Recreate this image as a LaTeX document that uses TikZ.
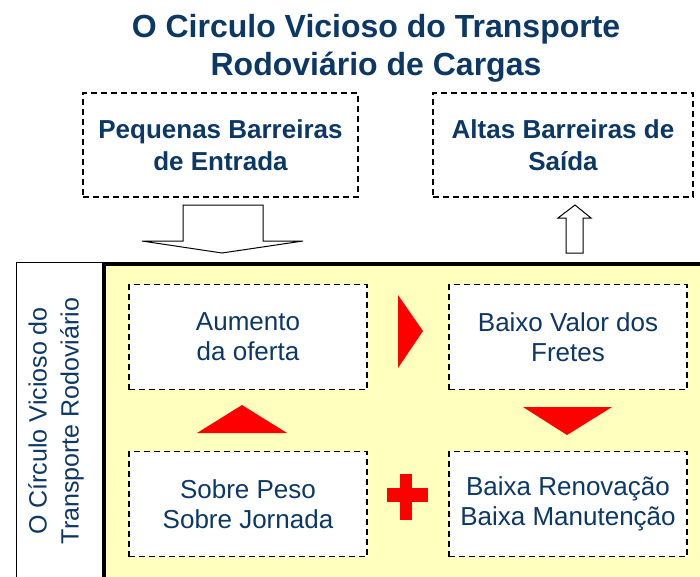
\documentclass[tikz,border=0pt]{standalone}
\usepackage{fontspec}
\setmainfont{Liberation Sans}
\usetikzlibrary{positioning}
\definecolor{navy}{RGB}{12,56,104}
\definecolor{pale}{RGB}{255,255,190}
\tikzset{
	dashbox/.style={draw=black, dash pattern=on 6pt off 4pt, line width=1.3pt, fill=white, align=center, inner sep=0pt, text=navy},
	outerbox/.style={dashbox, minimum width=#1, minimum height=104pt, font=\bfseries\fontsize{26}{32}\selectfont},
	innerbox/.style={dashbox, minimum width=238pt, minimum height=105pt, font=\fontsize{26}{30}\selectfont},
	marker/.style={fill=red, draw=none}
}

\begin{document}
\begin{tikzpicture}[x=1pt, y=-1pt]
		%%%%% START %%%%%
		\useasboundingbox (0, 0) rectangle (700, 576);
		
		\node[text=navy, align=center, inner sep=0pt, font=\bfseries\fontsize{32}{38}\selectfont] (title) at (376, 48) {O Circulo Vicioso do Transporte\\Rodoviário de Cargas};
		
		\node[outerbox=275pt] (entrada) at (220.5, 145) {Pequenas Barreiras\\de Entrada};
		\node[outerbox=260pt] (saida) at (563, 145) {Altas Barreiras de\\Saída};
		
		% block arrows
		\draw[line width=1pt, fill=white, line join=miter] (183, 205) -- (263, 205) -- (263, 241) -- (303, 241) -- (222, 253) -- (142, 241) -- (183, 241) -- cycle;
		\draw[line width=1pt, fill=white, line join=miter] (566, 253) -- (583, 253) -- (583, 218) -- (591, 218) -- (575, 205) -- (558, 218) -- (566, 218) -- cycle;
		
		% side panel and yellow field
		\draw[line width=0.8pt, fill=white] (16, 262) rectangle (102, 600);
		\node[rotate=90, text=navy, align=center, inner sep=0pt, font=\fontsize{25}{32}\selectfont] (lado) at (56, 421) {O Círculo Vicioso do\\Transporte Rodoviário};
		\draw[line width=3.8pt, fill=pale] (104.5, 264) rectangle (720, 600);
		
		\node[innerbox] (oferta) at (248, 337) {Aumento\\da oferta};
		\node[innerbox] (fretes) at (568, 337) {Baixo Valor dos\\Fretes};
		\node[innerbox] (peso) at (248, 504) {Sobre Peso\\Sobre Jornada};
		\node[innerbox] (renov) at (568, 504) {Baixa Renovação\\Baixa Manutenção};
		
		% red markers
		\fill[marker] (398, 295) -- (423, 331) -- (398, 368) -- cycle;
		\fill[marker] (523, 407) -- (612, 407) -- (567, 435) -- cycle;
		\fill[marker] (197, 433) -- (287, 433) -- (242, 405) -- cycle;
		\fill[marker] (400, 474) rectangle (412, 520);
		\fill[marker] (387, 488) rectangle (428, 502);
		
		%%%%% END %%%%%
	\end{tikzpicture}
\end{document}
